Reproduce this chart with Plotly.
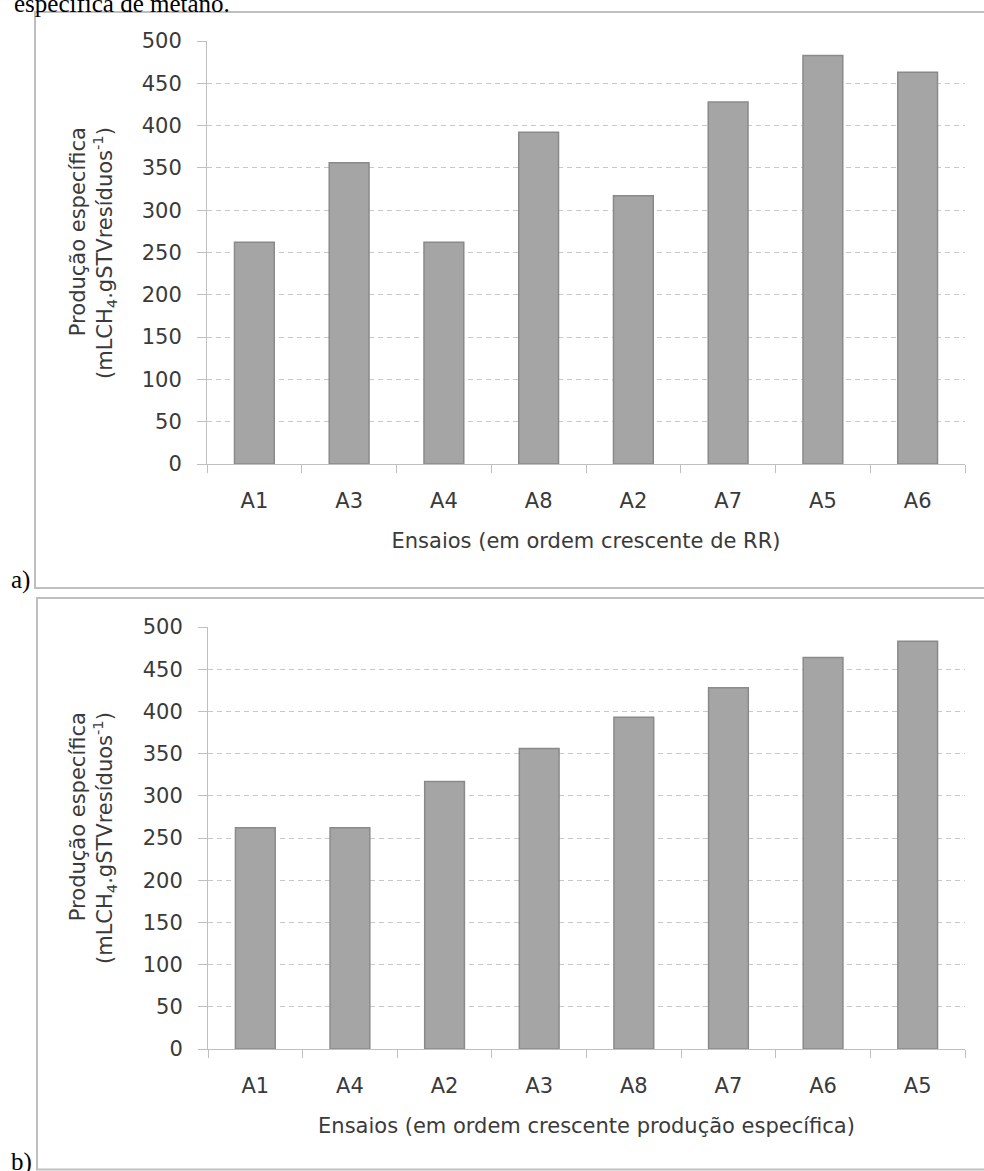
import plotly.graph_objects as go

# ---- data ----
cats_a = ["A1", "A3", "A4", "A8", "A2", "A7", "A5", "A6"]
vals_a = [262, 356, 262, 392, 317, 428, 483, 463]
cats_b = ["A1", "A4", "A2", "A3", "A8", "A7", "A6", "A5"]
vals_b = [262, 262, 317, 356, 393, 428, 464, 483]
y_ticks = list(range(0, 501, 50))
xtitle_a = "Ensaios (em ordem crescente de RR)"
xtitle_b = "Ensaios (em ordem crescente produção específica)"
ytitle = "Produção específica<br>(mLCH<sub>4</sub>.gSTVresíduos<sup>-1</sup>)"
top_text = "específica de metano."

W, H = 984, 1171
def px(x):
    return x / W
def py(y):
    return 1 - y / H

FONT = "DejaVu Sans"
FS = 21
TXT = "#3a3a3a"
AX = "#bfbfbf"
GRID = "#c8c8c8"

fig = go.Figure()
bar_style = dict(marker=dict(color="#a5a5a5", line=dict(color="#8a8a8a", width=1.5)), showlegend=False)
fig.add_trace(go.Bar(x=cats_a, y=vals_a, xaxis="x", yaxis="y", **bar_style))
fig.add_trace(go.Bar(x=cats_b, y=vals_b, xaxis="x2", yaxis="y2", **bar_style))

def xax(dom, anchor, title):
    return dict(domain=dom, anchor=anchor, type="category", showline=True, linecolor=AX, linewidth=1,
                ticks="outside", tickson="boundaries", ticklen=8, tickcolor=AX, tickwidth=1,
                tickfont=dict(family=FONT, size=FS, color=TXT), ticklabelstandoff=18,
                showgrid=False, zeroline=False, automargin=False,
                title=dict(text=title, font=dict(family=FONT, size=FS, color=TXT), standoff=21))

def yax(dom, anchor):
    return dict(domain=dom, anchor=anchor, range=[0, 500], tickvals=y_ticks, showline=True, linecolor=AX,
                linewidth=1, ticks="outside", ticklen=9, tickcolor=AX, tickwidth=1,
                tickfont=dict(family=FONT, size=FS, color=TXT), ticklabelstandoff=11,
                showgrid=True, gridcolor=GRID, gridwidth=1, griddash="5px,4px", zeroline=False,
                automargin=False)

def ytitle_ann(ycenter):
    return dict(text=ytitle, xref="paper", yref="paper", x=px(93), y=py(ycenter), xanchor="center",
                yanchor="middle", textangle=-90, align="right", showarrow=False,
                font=dict(family=FONT, size=FS, color=TXT))

fig.update_layout(
    width=W, height=H, margin=dict(l=0, r=0, t=0, b=0, autoexpand=False),
    paper_bgcolor="white", plot_bgcolor="white", bargap=0.58,
    xaxis=xax([px(207), px(965)], "y", xtitle_a),
    yaxis=yax([py(464), py(41)], "x"),
    xaxis2=xax([px(208), px(965)], "y2", xtitle_b),
    yaxis2=yax([py(1049), py(627)], "x2"),
    shapes=[
        dict(type="rect", xref="paper", yref="paper", x0=px(35), x1=1.05, y0=py(588), y1=py(12),
             line=dict(color=AX, width=2), layer="below"),
        dict(type="rect", xref="paper", yref="paper", x0=px(37), x1=1.05, y0=py(1169.5), y1=py(598),
             line=dict(color=AX, width=2), layer="below"),
    ],
    annotations=[
        ytitle_ann(253),
        ytitle_ann(838),
        dict(text=top_text, xref="paper", yref="paper", x=px(12), y=py(19), xanchor="left", yanchor="bottom",
             showarrow=False, font=dict(family="Liberation Serif", size=25, color="black")),
        dict(text="a)", xref="paper", yref="paper", x=px(9), y=py(596), xanchor="left", yanchor="bottom",
             showarrow=False, font=dict(family="Liberation Serif", size=25, color="black")),
        dict(text="b)", xref="paper", yref="paper", x=px(9), y=py(1178), xanchor="left", yanchor="bottom",
             showarrow=False, font=dict(family="Liberation Serif", size=25, color="black")),
    ],
)

fig.write_html("out.html")
